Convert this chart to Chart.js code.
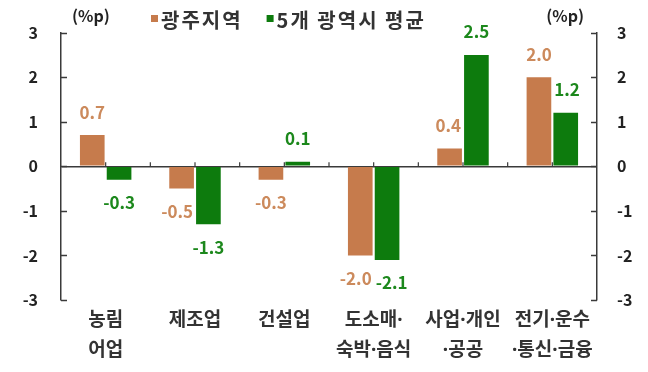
<!DOCTYPE html>
<html>
<head>
<meta charset="utf-8">
<script src="https://cdn.jsdelivr.net/npm/chart.js@4/dist/chart.umd.min.js"></script>
<style>
  html, body { margin: 0; padding: 0; background: #fff; }
  #wrap { width: 648px; height: 372px; }
</style>
</head>
<body>
<div id="wrap"><canvas id="c" width="648" height="372"></canvas></div>
<script>
// Industry groups (two-line labels)
const categories = [
  ['농림', '어업'],
  ['제조업'],
  ['건설업'],
  ['도소매·', '숙박·음식'],
  ['사업·개인', '·공공'],
  ['전기·운수', '·통신·금융']
];
// Change, %p
const gwangju  = [0.7, -0.5, -0.3, -2.0, 0.4, 2.0];
const metroAvg = [-0.3, -1.3, 0.1, -2.1, 2.5, 1.2];
const seriesNames = ['광주지역', '5개 광역시 평균'];
const yTicks = [-3, -2, -1, 0, 1, 2, 3];
const unitLabel = '(%p)';

const FONT = "'Noto Sans CJK KR', 'Noto Sans', sans-serif";
// Latin font first so the middle dot stays narrow; Hangul falls back to CJK
const LABEL_FONT = "'Noto Sans', 'Noto Sans CJK KR', sans-serif";
const barColors = ['#C67B4C', '#0D7B0D'];
const labelColors = ['#CC8A5C', '#1C881C'];
const axisColor = '#3a3a3a';

// Value labels: placed beyond the bar end, then nudged sideways so they
// do not sit on the neighbouring bar or on each other.
function layoutValueLabels(chart, ctx) {
  const items = [];
  chart.data.datasets.forEach((ds, di) => {
    const meta = chart.getDatasetMeta(di);
    meta.data.forEach((bar, i) => {
      const v = ds.data[i];
      const text = v.toFixed(1);
      const w = ctx.measureText(text).width;
      const h = 14;
      const y = v >= 0 ? bar.y - 23 : bar.y + 23;
      items.push({ di, i, text, x: bar.x, y, w, h, bar });
    });
  });
  const bars = items.map(it => {
    const b = it.bar;
    const hw = b.width / 2;
    return { di: it.di, i: it.i, l: b.x - hw, r: b.x + hw, t: Math.min(b.y, b.base), btm: Math.max(b.y, b.base) };
  });
  // keep clear of the other series' bar in the same category
  items.forEach(it => {
    bars.forEach(b => {
      if (b.i !== it.i || b.di === it.di) return;
      const top = it.y - it.h / 2, bot = it.y + it.h / 2;
      if (bot < b.t || top > b.btm) return;
      const l = it.x - it.w / 2, r = it.x + it.w / 2;
      if (it.x < (b.l + b.r) / 2) {
        if (r > b.l - 3) it.x -= r - (b.l - 3);
      } else if (l < b.r + 3) {
        it.x += (b.r + 3) - l;
      }
    });
  });
  // keep labels of one category apart from each other
  for (let a = 0; a < items.length; a++) {
    for (let b = a + 1; b < items.length; b++) {
      const p = items[a], q = items[b];
      if (p.i !== q.i) continue;
      if (Math.abs(p.y - q.y) > (p.h + q.h) / 2) continue;
      const left = p.x < q.x ? p : q, right = left === p ? q : p;
      const overlap = (left.x + left.w / 2) - (right.x - right.w / 2) + 4;
      if (overlap > 0) { left.x -= overlap / 2; right.x += overlap / 2; }
    }
  }
  return items;
}

const decorations = {
  id: 'decorations',
  afterDraw(chart) {
    const { ctx, chartArea, scales } = chart;
    const xs = scales.x, yl = scales.y, yr = scales.y2;
    ctx.save();
    ctx.strokeStyle = axisColor;
    ctx.lineWidth = 1.5;
    const seg = (x1, y1, x2, y2) => { ctx.beginPath(); ctx.moveTo(x1, y1); ctx.lineTo(x2, y2); ctx.stroke(); };

    // inward tick marks on both value axes
    yl.ticks.forEach(t => {
      const py = Math.round(yl.getPixelForValue(t.value)) + 0.5;
      seg(chartArea.left, py, chartArea.left + 6, py);
    });
    yr.ticks.forEach(t => {
      const py = Math.round(yr.getPixelForValue(t.value)) + 0.5;
      seg(chartArea.right - 6, py, chartArea.right, py);
    });

    // small marks along the zero line at category centres and boundaries
    const zeroY = yl.getPixelForValue(0);
    const half = (xs.getPixelForValue(1) - xs.getPixelForValue(0)) / 2;
    ctx.lineWidth = 1.2;
    for (let i = 0; i < categories.length; i++) {
      const cx = xs.getPixelForValue(i);
      seg(cx, zeroY, cx, zeroY - 4);
      if (i > 0) seg(cx - half, zeroY, cx - half, zeroY - 4);
    }

    // unit labels
    ctx.fillStyle = '#222';
    ctx.font = 'bold 16px ' + FONT;
    ctx.textBaseline = 'middle';
    ctx.textAlign = 'left';
    ctx.fillText(unitLabel, chartArea.left + 11, 16);
    ctx.textAlign = 'right';
    ctx.fillText(unitLabel, chartArea.right - 13, 16);

    // legend
    ctx.font = 'bold 20px ' + FONT;
    ctx.textAlign = 'left';
    if ('letterSpacing' in ctx) ctx.letterSpacing = '2px';
    let lx = 151;
    chart.data.datasets.forEach((ds, i) => {
      ctx.fillStyle = barColors[i];
      ctx.fillRect(lx, 15, 7, 7);
      ctx.fillStyle = '#333';
      ctx.fillText(ds.label, lx + 10, 20);
      lx += 10 + ctx.measureText(ds.label).width + 24;
    });
    ctx.restore();
  },
  afterDatasetsDraw(chart) {
    const { ctx } = chart;
    ctx.save();
    ctx.font = 'bold 17px ' + FONT;
    ctx.textAlign = 'center';
    ctx.textBaseline = 'middle';
    layoutValueLabels(chart, ctx).forEach(it => {
      ctx.fillStyle = labelColors[it.di];
      ctx.fillText(it.text, it.x, it.y);
    });
    ctx.restore();
  }
};

const valueAxis = (position, width, padding) => ({
  type: 'linear',
  position,
  min: -3,
  max: 3,
  afterBuildTicks: s => { s.ticks = yTicks.map(v => ({ value: v })); },
  afterFit: s => { s.width = width; },
  ticks: {
    padding,
    color: '#222',
    font: { family: FONT, size: 16, weight: 'bold' }
  },
  border: { display: true, color: axisColor, width: 1.5 },
  grid: {
    drawTicks: false,
    drawOnChartArea: position === 'left',
    color: c => (c.tick && c.tick.value === 0 ? axisColor : 'rgba(0,0,0,0)'),
    lineWidth: 1.5
  }
});

new Chart(document.getElementById('c'), {
  type: 'bar',
  data: {
    labels: categories,
    datasets: [
      { label: seriesNames[0], data: gwangju, backgroundColor: barColors[0], yAxisID: 'y' },
      { label: seriesNames[1], data: metroAvg, backgroundColor: barColors[1], yAxisID: 'y' }
    ]
  },
  options: {
    responsive: false,
    animation: false,
    devicePixelRatio: 1,
    categoryPercentage: 0.6,
    barPercentage: 0.92,
    layout: { padding: { top: 26, left: 0, right: 0, bottom: 0 } },
    plugins: {
      legend: { display: false },
      tooltip: { enabled: false }
    },
    scales: {
      x: {
        type: 'category',
        offset: true,
        afterFit: s => { s.height = 72; },
        grid: { display: false, drawTicks: false },
        border: { display: false },
        ticks: {
          padding: 6,
          maxRotation: 0,
          autoSkip: false,
          color: '#333',
          font: { family: LABEL_FONT, size: 19, weight: 'bold', lineHeight: 1.58 }
        }
      },
      y: valueAxis('left', 61, 23),
      y2: valueAxis('right', 51, 20)
    }
  },
  plugins: [decorations]
});
</script>
</body>
</html>
